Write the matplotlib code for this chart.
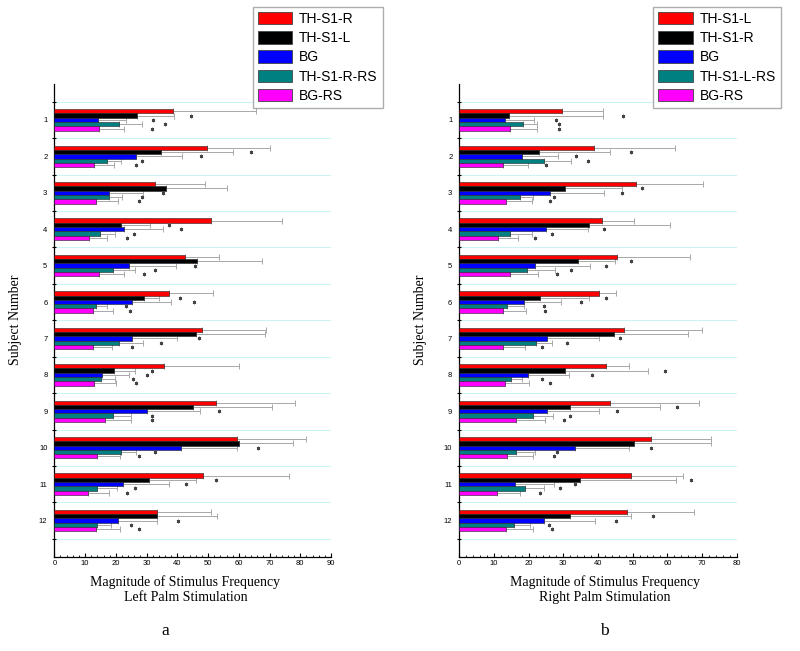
import numpy as np
import matplotlib
matplotlib.use('Agg')
import matplotlib.pyplot as plt
from matplotlib.patches import Patch

subjects = np.arange(1, 13)
colors = ['#ff0000', '#000000', '#0000ff', '#008080', '#ff00ff']
nan = np.nan

# Left palm stimulation
left_labels = ['TH-S1-R', 'TH-S1-L', 'BG', 'TH-S1-R-RS', 'BG-RS']
left_vals = [
    [38.5, 49.7, 32.8, 50.8, 42.5, 37.4, 47.9, 35.7, 52.5, 59.5, 48.5, 33.4],
    [26.8, 34.7, 36.2, 21.6, 46.3, 29.2, 46.1, 19.5, 45.0, 60.1, 30.8, 33.4],
    [14.1, 26.7, 17.8, 22.5, 24.4, 25.3, 25.3, 15.6, 30.2, 41.2, 22.2, 20.6],
    [21.0, 17.0, 17.7, 14.9, 19.2, 13.6, 20.9, 15.1, 19.2, 21.6, 13.8, 14.0],
    [14.5, 12.8, 13.4, 11.2, 14.5, 12.5, 12.6, 13.0, 16.5, 13.8, 10.8, 13.6],
]
left_err = [
    [65.6, 70.2, 49.1, 74.1, 53.5, 51.6, 68.9, 60.0, 78.4, 81.8, 76.2, 50.9],
    [38.8, 58.1, 56.0, 31.0, 67.4, 33.9, 68.5, 26.1, 70.7, 77.5, 46.0, 52.9],
    [23.2, 41.5, 28.7, 35.2, 39.5, 38.1, 39.8, 24.4, 47.4, 59.3, 37.2, 33.5],
    [28.6, 21.6, 22.0, 19.7, 26.1, 17.0, 29.0, 19.8, 24.8, 26.6, 20.3, 18.3],
    [22.6, 19.5, 20.8, 17.0, 22.8, 19.2, 18.9, 20.2, 24.8, 21.3, 17.7, 21.5],
]
left_star = [
    [nan] * 12,
    [44.3, 64.1, nan, 37.4, nan, 40.8, nan, 31.8, nan, nan, 52.6, nan],
    [32.1, 47.7, 35.5, 41.2, 45.9, 45.3, 47.2, 30.2, 53.7, 66.4, 42.8, 40.1],
    [35.9, 28.4, 28.6, 26.0, 32.8, 23.3, 34.8, 25.6, 31.8, 32.8, 26.4, 24.9],
    [31.8, 26.5, 27.4, 23.8, 29.3, 24.7, 25.4, 26.7, 31.8, 27.4, 23.8, 27.7],
]

# Right palm stimulation
right_labels = ['TH-S1-L', 'TH-S1-R', 'BG', 'TH-S1-L-RS', 'BG-RS']
right_vals = [
    [29.7, 38.9, 50.9, 41.1, 45.6, 40.4, 47.6, 42.3, 43.6, 55.3, 49.5, 48.4],
    [14.2, 22.9, 30.4, 37.5, 34.1, 23.4, 44.7, 30.4, 31.9, 50.5, 34.8, 32.0],
    [13.2, 18.0, 26.3, 24.9, 21.9, 18.7, 25.3, 19.8, 25.4, 33.4, 16.0, 24.3],
    [18.3, 24.4, 17.5, 14.5, 19.4, 13.7, 22.2, 14.8, 21.4, 16.3, 18.9, 15.7],
    [14.5, 12.7, 13.5, 11.3, 14.5, 12.5, 12.5, 13.1, 16.4, 13.8, 10.9, 13.6],
]
right_err = [
    [41.5, 62.3, 70.4, 50.3, 66.6, 45.1, 69.9, 48.8, 69.1, 72.7, 64.6, 67.8],
    [41.3, 43.5, 47.0, 60.8, 44.9, 37.5, 65.9, 54.5, 57.8, 72.7, 62.4, 49.4],
    [21.6, 28.4, 41.6, 37.0, 37.6, 29.3, 40.4, 31.5, 40.3, 48.8, 27.4, 39.0],
    [22.3, 32.1, 21.2, 20.9, 27.7, 18.8, 26.8, 18.0, 26.9, 21.7, 24.5, 20.3],
    [22.5, 19.7, 20.9, 17.0, 22.8, 19.3, 18.9, 20.1, 24.8, 21.2, 17.6, 21.3],
]
right_star = [
    [nan] * 12,
    [47.1, 49.5, 52.6, nan, 49.4, 42.3, nan, 59.2, 62.8, nan, 66.8, 55.9],
    [27.8, 33.8, 47.0, 41.7, 42.3, 35.2, 46.2, 38.3, 45.4, 55.4, 33.4, 45.3],
    [28.7, 37.0, 27.4, 26.6, 32.3, 24.4, 31.2, 23.8, 32.0, 28.1, 29.0, 25.8],
    [28.8, 25.0, 26.1, 21.9, 28.1, 24.7, 23.8, 26.1, 30.3, 27.4, 23.4, 26.7],
]

serif = 'Liberation Serif'
sans = 'Liberation Sans'


def draw_panel(ax, vals, errs, stars, xmax, xlabel):
    h = 0.118
    for i in range(5):
        y = subjects + (i - 2) * h
        v = np.array(vals[i])
        e = np.array(errs[i])
        ax.barh(y, v, height=h, color=colors[i], edgecolor='#222222',
                linewidth=0.4, zorder=3)
        ax.errorbar(v, y, xerr=[np.zeros(12), e - v], fmt='none',
                    ecolor='#a8a8a8', elinewidth=0.7, capsize=2.5,
                    capthick=0.7, zorder=2)
        ax.plot(stars[i], y, linestyle='none', marker=(6, 2, 0),
                ms=2.5, mew=0.6, color='#444444', zorder=4)
    ax.set_xlim(0, xmax)
    ax.set_ylim(13, 0)
    ax.set_xticks(np.arange(0, xmax + 1, 10))
    ax.set_xticks(np.arange(0, xmax + 1, 2), minor=True)
    ax.set_yticks(subjects)
    ax.set_yticks(np.arange(0.5, 13, 1), minor=True)
    ax.tick_params(axis='y', which='major', length=0, pad=5, labelsize=5.5)
    ax.tick_params(axis='y', which='minor', length=3, direction='inout',
                   width=0.8)
    ax.tick_params(axis='x', which='major', length=3, direction='in',
                   labelsize=5.5, pad=2, width=0.8)
    ax.tick_params(axis='x', which='minor', length=1.8, direction='in',
                   width=0.6)
    for lab in ax.get_xticklabels() + ax.get_yticklabels():
        lab.set_fontfamily(sans)
    ax.grid(which='minor', axis='y', color='#c8f4f4', linewidth=0.7, zorder=0)
    for s in ['top', 'right']:
        ax.spines[s].set_visible(False)
    ax.spines['left'].set_linewidth(0.9)
    ax.spines['bottom'].set_linewidth(0.9)
    ax.set_ylabel('Subject Number', fontfamily=serif, fontsize=10)
    ax.yaxis.set_label_coords(-0.117, 0.5)
    ax.set_xlabel(xlabel, fontfamily=serif, fontsize=10, linespacing=1.25)


fig = plt.figure(figsize=(8, 6.51), dpi=100)
ax1 = fig.add_axes([0.0679, 0.1444, 0.3459, 0.7273])
ax2 = fig.add_axes([0.5741, 0.1444, 0.3468, 0.7273])

draw_panel(ax1, left_vals, left_err, left_star, 90,
           'Magnitude of Stimulus Frequency\nLeft Palm Stimulation')
draw_panel(ax2, right_vals, right_err, right_star, 80,
           'Magnitude of Stimulus Frequency\nRight Palm Stimulation')
ax1.xaxis.set_label_coords(0.474, -0.038)
ax2.xaxis.set_label_coords(0.525, -0.038)

for lbls, x0 in [(left_labels, 252.7), (right_labels, 653)]:
    handles = [Patch(facecolor=c, edgecolor='#444444', linewidth=0.6)
               for c in colors]
    fig.legend(handles, lbls, loc='upper left',
               bbox_to_anchor=(x0 / 800, 1 - 7 / 651),
               prop={'family': sans, 'size': 10}, frameon=True,
               fancybox=False, edgecolor='#999999', handlelength=2.5,
               handleheight=1.0, labelspacing=0.38, handletextpad=0.5,
               borderpad=0.35, borderaxespad=0)

fig.text(165 / 800, 1 - 631 / 651, 'a', fontfamily=serif, fontsize=12.5,
         ha='center', va='center')
fig.text(604 / 800, 1 - 631 / 651, 'b', fontfamily=serif, fontsize=12.5,
         ha='center', va='center')

fig.savefig('out.png', dpi=100)
